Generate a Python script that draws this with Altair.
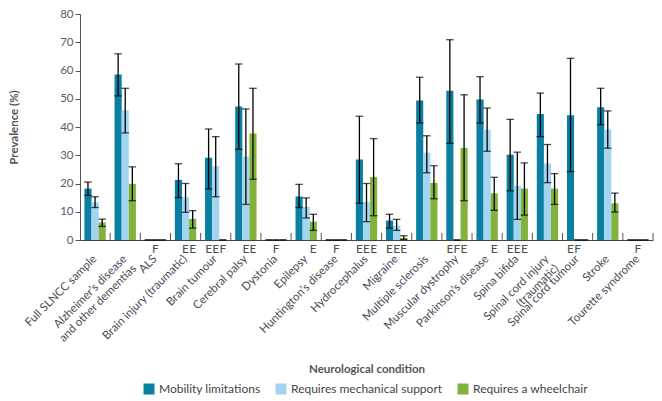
import altair as alt
import pandas as pd

categories = [
    "Full SLNCC sample",
    "Alzheimer’s disease\nand other dementias",
    "ALS",
    "Brain injury (traumatic)",
    "Brain tumour",
    "Cerebral palsy",
    "Dystonia",
    "Epilepsy",
    "Huntington’s disease",
    "Hydrocephalus",
    "Migraine",
    "Multiple sclerosis",
    "Muscular dystrophy",
    "Parkinson’s disease",
    "Spina bifida",
    "Spinal cord injury\n(traumatic)",
    "Spinal cord tumour",
    "Stroke",
    "Tourette syndrome",
]
series_names = ["Mobility limitations", "Requires mechanical support", "Requires a wheelchair"]
series_colors = ["#0a7fa1", "#a3d5f0", "#82b23c"]

mob = [18.2, 58.6, 0, 21.3, 29.1, 47.3, 0, 15.4, 0, 28.5, 6.9, 49.4, 52.8, 49.7, 30.2, 44.6, 44.2, 47.0, 0]
mob_lo = [15.8, 51.0, None, 15.0, 18.1, 32.1, None, 11.5, None, 13.0, 4.2, 41.4, 34.2, 41.4, 17.4, 36.6, 24.2, 40.8, None]
mob_hi = [20.5, 65.9, None, 27.0, 39.3, 62.3, None, 19.7, None, 43.8, 9.1, 57.6, 70.9, 57.8, 42.7, 52.0, 64.3, 53.7, None]
mob_flag = ["", "", "", "", "E", "", "", "", "", "E", "E", "", "E", "", "E", "", "E", "", ""]

mech = [13.4, 45.9, 0, 15.1, 26.1, 29.5, 0, 11.7, 0, 13.4, 5.1, 30.9, 0, 39.1, 19.2, 27.1, 0, 39.1, 0]
mech_lo = [11.5, 37.9, None, 9.8, 15.3, 12.6, None, 7.8, None, 6.5, 3.4, 23.8, None, 31.4, 7.3, 20.3, None, 32.5, None]
mech_hi = [15.3, 53.7, None, 20.0, 36.6, 46.4, None, 14.9, None, 20.0, 7.3, 36.9, None, 46.7, 31.1, 33.8, None, 45.7, None]
mech_flag = ["", "", "F", "E", "E", "E", "F", "", "F", "E", "E", "", "F", "", "E", "", "F", "", "F"]

wheel = [6.2, 19.9, 0, 7.5, 0, 37.7, 0, 6.5, 0, 22.3, 0.7, 20.2, 32.6, 16.5, 18.2, 18.2, 0, 13.0, 0]
wheel_lo = [4.8, 13.9, None, 4.2, None, 21.5, None, 3.4, None, 8.6, 0.2, 14.6, 13.9, 10.5, 8.8, 12.6, None, 9.9, None]
wheel_hi = [7.4, 25.9, None, 10.4, None, 53.7, None, 9.1, None, 35.9, 1.5, 26.3, 51.4, 22.2, 27.3, 23.5, None, 16.6, None]
wheel_flag = ["", "", "", "E", "F", "E", "", "E", "", "E", "E", "", "E", "E", "E", "", "", "", ""]

y_ticks = [0, 10, 20, 30, 40, 50, 60, 70, 80]

rows = []
for s, vals, los, his, flags in [
    (series_names[0], mob, mob_lo, mob_hi, mob_flag),
    (series_names[1], mech, mech_lo, mech_hi, mech_flag),
    (series_names[2], wheel, wheel_lo, wheel_hi, wheel_flag),
]:
    for c, v, lo, hi, f in zip(categories, vals, los, his, flags):
        rows.append({"cat": c, "series": s, "value": v, "lo": lo, "hi": hi, "flag": f})
df = pd.DataFrame(rows)
cats_df = pd.DataFrame({"cat": categories})

FONT = "Lato"
TXT = "#4a4a55"

xaxis = alt.Axis(
    title="Neurological condition",
    labelAngle=-45,
    labelAlign="right",
    labelBaseline="middle",
    labelExpr="split(datum.label, '\\n')",
    ticks=False,
    labelPadding=17,
    domainColor="#444",
    labelColor=TXT,
    labelFontSize=11.5,
    labelFont=FONT,
    titleFont=FONT,
    titleFontSize=11.5,
    titleFontWeight="bold",
    titleColor="#555",
    titlePadding=20,
    labelLimit=300,
    labelOverlap=False,
)
xscale = alt.Scale(paddingInner=0, paddingOuter=0)
xenc = alt.X("cat:N", sort=categories, scale=xscale, axis=xaxis)
xoff = alt.XOffset("series:N", sort=series_names, scale=alt.Scale(paddingInner=0, paddingOuter=0.62))
yscale = alt.Scale(domain=[0, 80])
yaxis = alt.Axis(
    title="Prevalence (%)",
    values=y_ticks,
    tickCount=9,
    grid=False,
    tickSize=5,
    labelPadding=2,
    domainColor="#555",
    tickColor="#555",
    labelColor="#5a5a66",
    labelFontSize=11.5,
    labelFont=FONT,
    labelOverlap=False,
    titleFont=FONT,
    titleFontSize=11.5,
    titleFontWeight="bold",
    titleColor="#555",
    titlePadding=40,
)

bars = alt.Chart(df).mark_bar().encode(
    x=xenc,
    xOffset=xoff,
    y=alt.Y("value:Q", scale=yscale, axis=yaxis),
    color=alt.Color(
        "series:N",
        sort=series_names,
        scale=alt.Scale(domain=series_names, range=series_colors),
        legend=alt.Legend(
            title=None,
            orient="none",
            direction="horizontal",
            legendX=63,
            legendY=369,
            symbolType="square",
            symbolSize=121,
            symbolStrokeWidth=0,
            columnPadding=14,
            labelFont=FONT,
            labelFontSize=12,
            labelColor="#444",
        ),
    ),
)

zero_bars = alt.Chart(df).transform_filter("datum.value == 0").mark_bar(
    stroke="#111", strokeWidth=1.5, fillOpacity=0
).encode(x=xenc, xOffset=xoff, y=alt.Y("value:Q", scale=yscale, axis=yaxis))

err = alt.Chart(df).transform_filter("isValid(datum.lo)").mark_rule(color="black", strokeWidth=1.3).encode(
    x=xenc, xOffset=xoff, y=alt.Y("lo:Q", scale=yscale, axis=yaxis), y2="hi:Q"
)
cap_lo = alt.Chart(df).transform_filter("isValid(datum.lo)").mark_tick(
    color="black", thickness=1.3, size=7.5, orient="horizontal"
).encode(x=xenc, xOffset=xoff, y=alt.Y("lo:Q", scale=yscale, axis=yaxis))
cap_hi = alt.Chart(df).transform_filter("isValid(datum.hi)").mark_tick(
    color="black", thickness=1.3, size=7.5, orient="horizontal"
).encode(x=xenc, xOffset=xoff, y=alt.Y("hi:Q", scale=yscale, axis=yaxis))

flags = alt.Chart(df).transform_filter("datum.flag != ''").transform_calculate(
    base="0"
).mark_text(
    font=FONT, fontSize=12, color="#4d4d4d", baseline="top", dy=4
).encode(x=xenc, xOffset=xoff, y=alt.Y("base:Q", scale=yscale, axis=yaxis), text="flag:N")

slot_ticks = alt.Chart(cats_df).transform_calculate(
    t0="0", t1="2.5"
).mark_rule(color="#555", strokeWidth=1).encode(
    x=alt.X("cat:N", sort=categories, scale=xscale, axis=xaxis, bandPosition=1),
    y=alt.Y("t0:Q", scale=yscale, axis=yaxis),
    y2="t1:Q",
)

chart = (
    alt.layer(bars, zero_bars, err, cap_lo, cap_hi, flags, slot_ticks)
    .properties(
        width=646,
        height=226,
        autosize=alt.AutoSizeParams(type="fit-x", contains="padding"),
        padding={"left": 0, "top": 0, "right": 0, "bottom": 24},
    )
    .configure_view(stroke=None)
)

chart.save("out.html", embed_options={"renderer": "svg", "actions": False})
